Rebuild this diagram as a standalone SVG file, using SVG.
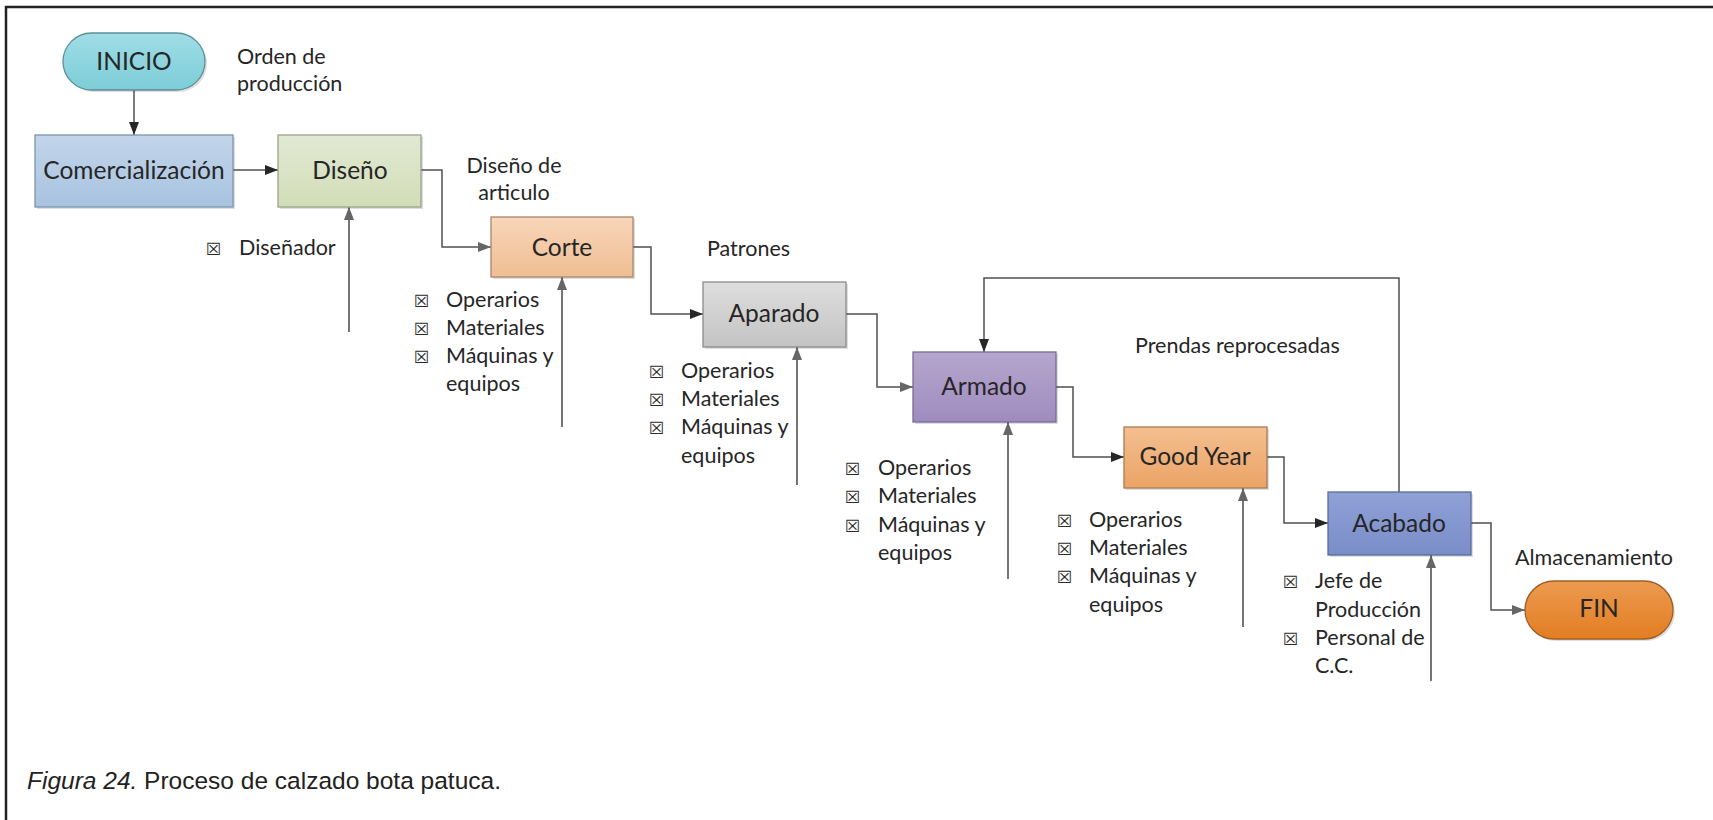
<svg xmlns="http://www.w3.org/2000/svg" width="1713" height="820" viewBox="0 0 1713 820">
<style>
.box{stroke-width:1.3}
.shadow{fill:#000;opacity:0.13}
.bt{font-family:Lato,"Open Sans",sans-serif;font-size:24.5px;fill:#262626;text-anchor:middle}
.lb{font-family:Lato,"Open Sans",sans-serif;font-size:21.5px;fill:#262626}
.bu{font-family:"DejaVu Sans",sans-serif;font-size:17px;fill:#2a2a2a}
.flow{fill:none;stroke:#505050;stroke-width:1.5}
.inp{fill:none;stroke:#666;stroke-width:1.8}
.cap{font-family:"Liberation Sans",Arial,sans-serif;font-size:24.5px;fill:#222}
</style>
<defs>
<marker id="ah" markerUnits="userSpaceOnUse" markerWidth="14" markerHeight="12" refX="13" refY="6" orient="auto">
<path d="M0,1 L13,6 L0,11 Z" fill="#262626"/>
</marker>
<marker id="ahg" markerUnits="userSpaceOnUse" markerWidth="14" markerHeight="12" refX="13" refY="6" orient="auto">
<path d="M0,1 L13,6 L0,11 Z" fill="#666"/>
</marker>
<linearGradient id="gIni" x1="0" y1="0" x2="0" y2="1"><stop offset="0" stop-color="#a0dde6"/><stop offset="1" stop-color="#7ccdd8"/></linearGradient>
<linearGradient id="gCom" x1="0" y1="0" x2="0" y2="1"><stop offset="0" stop-color="#c2d5ea"/><stop offset="1" stop-color="#a8c3df"/></linearGradient>
<linearGradient id="gDis" x1="0" y1="0" x2="0" y2="1"><stop offset="0" stop-color="#e2e9d3"/><stop offset="1" stop-color="#d2ddb8"/></linearGradient>
<linearGradient id="gCor" x1="0" y1="0" x2="0" y2="1"><stop offset="0" stop-color="#f8d6ba"/><stop offset="1" stop-color="#f0bd93"/></linearGradient>
<linearGradient id="gApa" x1="0" y1="0" x2="0" y2="1"><stop offset="0" stop-color="#dedede"/><stop offset="1" stop-color="#c3c3c3"/></linearGradient>
<linearGradient id="gArm" x1="0" y1="0" x2="0" y2="1"><stop offset="0" stop-color="#b5a6cd"/><stop offset="1" stop-color="#9f8cbf"/></linearGradient>
<linearGradient id="gGY" x1="0" y1="0" x2="0" y2="1"><stop offset="0" stop-color="#f3bf90"/><stop offset="1" stop-color="#eba466"/></linearGradient>
<linearGradient id="gAca" x1="0" y1="0" x2="0" y2="1"><stop offset="0" stop-color="#8fa1d6"/><stop offset="1" stop-color="#7a8dc9"/></linearGradient>
<linearGradient id="gFin" x1="0" y1="0" x2="0" y2="1"><stop offset="0" stop-color="#ec9a50"/><stop offset="1" stop-color="#e37d22"/></linearGradient>
</defs>
<rect x="0" y="0" width="1713" height="820" fill="#fff"/>
<g id="frame">
<path d="M6,820 V7 H1713" fill="none" stroke="#222" stroke-width="2.5"/>
</g>
<g id="connectors">
<path class="flow" d="M134,90 V135" marker-end="url(#ah)"/>
<path class="flow" d="M233,170 H278" marker-end="url(#ah)"/>
<path class="flow" d="M421,170 H442 V247 H491" marker-end="url(#ahg)"/>
<path class="flow" d="M633,247 H651 V314 H703" marker-end="url(#ah)"/>
<path class="flow" d="M846,314 H877 V387 H913" marker-end="url(#ahg)"/>
<path class="flow" d="M1056,387 H1073 V457 H1124" marker-end="url(#ah)"/>
<path class="flow" d="M1267,457 H1284 V523 H1328" marker-end="url(#ah)"/>
<path class="flow" d="M1471,523 H1491 V610 H1525" marker-end="url(#ahg)"/>
<path class="flow" d="M1399,492 V278 H984 V352" marker-end="url(#ah)"/>
<path class="inp" d="M349,332 V207" marker-end="url(#ahg)"/>
<path class="inp" d="M562,427 V277" marker-end="url(#ahg)"/>
<path class="inp" d="M797,485 V347" marker-end="url(#ahg)"/>
<path class="inp" d="M1008,579 V422" marker-end="url(#ahg)"/>
<path class="inp" d="M1243,627 V488" marker-end="url(#ahg)"/>
<path class="inp" d="M1431,681 V555" marker-end="url(#ahg)"/>
</g>
<g id="inicio">
<rect class="shadow" x="65" y="35" width="142" height="57" rx="28.5"/>
<rect class="box" x="63" y="33" width="142" height="57" rx="28.5" fill="url(#gIni)" stroke="#5d8f96"/>
<text class="bt" x="134" y="70">INICIO</text>
</g>
<g id="comercializacion">
<rect class="shadow" x="37" y="137" width="198" height="72"/>
<rect class="box" x="35" y="135" width="198" height="72" fill="url(#gCom)" stroke="#7d94ad"/>
<text class="bt" x="134" y="179">Comercialización</text>
</g>
<g id="diseno">
<rect class="shadow" x="280" y="137" width="143" height="72"/>
<rect class="box" x="278" y="135" width="143" height="72" fill="url(#gDis)" stroke="#9aa38a"/>
<text class="bt" x="350" y="179">Diseño</text>
</g>
<g id="corte">
<rect class="shadow" x="493" y="219" width="142" height="60"/>
<rect class="box" x="491" y="217" width="142" height="60" fill="url(#gCor)" stroke="#a8866a"/>
<text class="bt" x="562" y="256">Corte</text>
</g>
<g id="aparado">
<rect class="shadow" x="705" y="284" width="143" height="65"/>
<rect class="box" x="703" y="282" width="143" height="65" fill="url(#gApa)" stroke="#8a8a8a"/>
<text class="bt" x="774" y="322">Aparado</text>
</g>
<g id="armado">
<rect class="shadow" x="915" y="354" width="143" height="70"/>
<rect class="box" x="913" y="352" width="143" height="70" fill="url(#gArm)" stroke="#7a6a95"/>
<text class="bt" x="984" y="395">Armado</text>
</g>
<g id="goodyear">
<rect class="shadow" x="1126" y="429" width="143" height="61"/>
<rect class="box" x="1124" y="427" width="143" height="61" fill="url(#gGY)" stroke="#a97a55"/>
<text class="bt" x="1195" y="465">Good Year</text>
</g>
<g id="acabado">
<rect class="shadow" x="1330" y="494" width="143" height="63"/>
<rect class="box" x="1328" y="492" width="143" height="63" fill="url(#gAca)" stroke="#5b6a9c"/>
<text class="bt" x="1399" y="532">Acabado</text>
</g>
<g id="fin">
<rect class="shadow" x="1527" y="583" width="148" height="58" rx="29"/>
<rect class="box" x="1525" y="581" width="148" height="58" rx="29" fill="url(#gFin)" stroke="#9e5d24"/>
<text class="bt" x="1599" y="617">FIN</text>
</g>
<g id="labels">
<text class="lb" x="237" y="64">Orden de</text>
<text class="lb" x="237" y="91">producción</text>
<text class="lb" x="514" y="173" text-anchor="middle">Diseño de</text>
<text class="lb" x="514" y="200" text-anchor="middle">articulo</text>
<text class="lb" x="707" y="256">Patrones</text>
<text class="lb" x="1135" y="353">Prendas reprocesadas</text>
<text class="lb" x="1515" y="565">Almacenamiento</text>
</g>
<g id="recursos-diseno">
<text class="bu" x="206" y="255">☒</text>
<text class="lb" x="239" y="255">Diseñador</text>
</g>
<g id="recursos-corte">
<text class="bu" x="414" y="307">☒</text><text class="lb" x="446" y="307">Operarios</text>
<text class="bu" x="414" y="335">☒</text><text class="lb" x="446" y="335">Materiales</text>
<text class="bu" x="414" y="363">☒</text><text class="lb" x="446" y="363">Máquinas y</text>
<text class="lb" x="446" y="391">equipos</text>
</g>
<g id="recursos-aparado">
<text class="bu" x="649" y="378">☒</text><text class="lb" x="681" y="378">Operarios</text>
<text class="bu" x="649" y="406">☒</text><text class="lb" x="681" y="406">Materiales</text>
<text class="bu" x="649" y="434">☒</text><text class="lb" x="681" y="434">Máquinas y</text>
<text class="lb" x="681" y="463">equipos</text>
</g>
<g id="recursos-armado">
<text class="bu" x="845" y="475">☒</text><text class="lb" x="878" y="475">Operarios</text>
<text class="bu" x="845" y="503">☒</text><text class="lb" x="878" y="503">Materiales</text>
<text class="bu" x="845" y="532">☒</text><text class="lb" x="878" y="532">Máquinas y</text>
<text class="lb" x="878" y="560">equipos</text>
</g>
<g id="recursos-goodyear">
<text class="bu" x="1057" y="527">☒</text><text class="lb" x="1089" y="527">Operarios</text>
<text class="bu" x="1057" y="555">☒</text><text class="lb" x="1089" y="555">Materiales</text>
<text class="bu" x="1057" y="583">☒</text><text class="lb" x="1089" y="583">Máquinas y</text>
<text class="lb" x="1089" y="612">equipos</text>
</g>
<g id="recursos-acabado">
<text class="bu" x="1283" y="588">☒</text><text class="lb" x="1315" y="588">Jefe de</text>
<text class="lb" x="1315" y="617">Producción</text>
<text class="bu" x="1283" y="645">☒</text><text class="lb" x="1315" y="645">Personal de</text>
<text class="lb" x="1315" y="673">C.C.</text>
</g>
<g id="caption">
<text class="cap" x="27" y="789"><tspan font-style="italic">Figura 24.</tspan> Proceso de calzado bota patuca.</text>
</g>
</svg>
